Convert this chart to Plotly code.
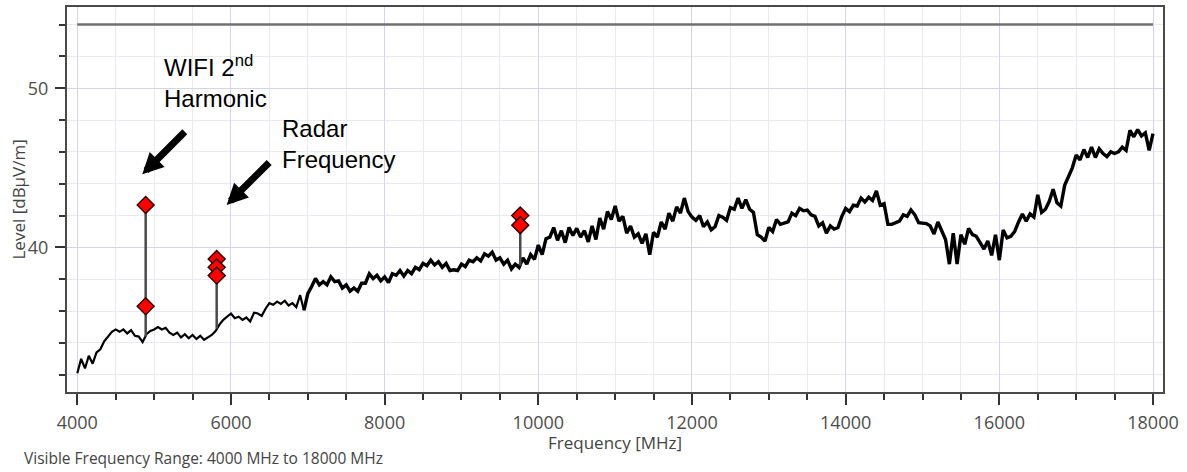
import plotly.graph_objects as go

# ---------------- data ----------------
freq_start, freq_stop, freq_step = 4000, 18000, 50
freq_mhz = list(range(freq_start, freq_stop + 1, freq_step))

level_dbuv = [
    # 4000 - 4950
    32.1, 33.0, 32.4, 33.2, 32.7, 33.4, 33.6, 34.1, 34.4, 34.7,
    34.85, 34.7, 34.85, 34.6, 34.8, 34.45, 34.4, 34.05, 34.55, 34.75,
    # 5000 - 5950
    34.85, 35.0, 34.85, 34.95, 34.65, 34.5, 34.65, 34.35, 34.55, 34.3,
    34.5, 34.25, 34.45, 34.2, 34.35, 34.5, 34.75, 35.15, 35.45, 35.65,
    # 6000 - 6950
    35.85, 35.55, 35.65, 35.45, 35.6, 35.35, 35.9, 35.85, 35.7, 36.15,
    36.5, 36.4, 36.6, 36.45, 36.65, 36.35, 36.5, 36.25, 37.0, 36.05,
    # 7000 - 7950
    37.1, 37.55, 38.05, 37.65, 37.85, 37.65, 38.15, 37.85, 37.9, 37.45,
    37.65, 37.25, 37.45, 37.25, 37.75, 37.75, 38.35, 38.05, 38.25, 37.9,
    # 8000 - 8950
    38.15, 37.8, 38.35, 38.25, 38.55, 38.2, 38.55, 38.35, 38.75, 38.6,
    39.0, 38.85, 39.2, 38.9, 39.1, 38.75, 39.0, 38.55, 38.6, 38.55,
    # 9000 - 9950
    38.95, 38.8, 39.2, 39.1, 39.35, 39.15, 39.6, 39.45, 39.7, 39.2,
    39.35, 38.95, 39.2, 38.65, 38.95, 38.75, 39.35, 38.95, 39.55, 39.25,
    # 10000 - 10950
    40.15, 39.55, 40.55, 40.65, 41.25, 40.45, 41.05, 40.3, 41.25, 40.75,
    41.2, 40.65, 41.05, 40.35, 41.35, 40.5, 41.85, 41.15, 42.25, 41.75,
    # 11000 - 11950
    42.6, 41.65, 41.95, 40.9, 41.35, 40.65, 40.85, 40.25, 40.85, 39.55,
    40.95, 40.65, 41.6, 41.15, 42.15, 41.65, 42.55, 42.15, 43.1, 42.25,
    # 12000 - 12950
    41.9, 41.7, 42.0, 41.3, 41.6, 41.1, 41.3, 42.0, 41.9, 41.7,
    42.5, 42.4, 43.1, 42.45, 43.0, 42.4, 42.2, 40.8, 40.65, 40.4,
    # 13000 - 13950
    41.25, 41.0, 41.75, 41.45, 41.55, 41.6, 42.15, 42.0, 42.45, 42.3,
    42.35, 42.05, 41.95, 41.35, 41.55, 40.9, 41.35, 41.15, 41.25, 41.95,
    # 14000 - 14950
    42.45, 42.25, 42.65, 42.6, 43.1, 42.85, 43.15, 42.95, 43.55, 42.65,
    42.75, 41.45, 41.45, 41.55, 41.65, 42.05, 41.95, 42.35, 42.05, 41.55,
    # 15000 - 15950
    41.55, 41.5, 41.35, 40.85, 41.6, 41.0, 40.5, 38.95, 40.9, 38.95,
    40.8, 40.2, 41.2, 40.8, 40.7, 40.3, 39.9, 40.4, 39.5, 40.8,
    # 16000 - 16950
    39.2, 41.1, 40.6, 40.7, 41.0, 41.6, 42.1, 41.65, 42.1, 41.9,
    43.3, 42.2, 42.4, 42.9, 43.65, 42.8, 42.6, 43.9, 44.4, 45.0,
    # 17000 - 18000
    45.8, 45.5, 46.15, 45.65, 46.3, 45.65, 46.2, 45.9, 45.7, 46.0,
    45.9, 46.0, 46.3, 46.1, 47.35, 46.95, 47.4, 47.0, 47.2, 46.1,
    47.15,
]

# frequency where the trace turns from a thin line into a dense noisy band
band_start_mhz = 6950

# limit line
limit_freq = [4000, 18000]
limit_level = [54.0, 54.0]

# narrow spikes (vertical stems) in the trace
spike_freq = [4890, 5814, 9765]
spike_base = [34.4, 34.9, 38.85]
spike_top = [42.67, 39.27, 42.0]

# peak markers
marker_freq = [4890, 4890, 5814, 5814, 5814, 9765, 9765]
marker_level = [42.67, 36.3, 39.27, 38.75, 38.23, 42.0, 41.4]

x_ticks = [4000, 6000, 8000, 10000, 12000, 14000, 16000, 18000]
y_ticks = [40, 50]

# ---------------- figure ----------------
stem_x, stem_y = [], []
for f, b, t in zip(spike_freq, spike_base, spike_top):
    stem_x += [f, f, None]
    stem_y += [b, t, None]

split = freq_mhz.index(band_start_mhz)

fig = go.Figure()
fig.add_trace(go.Scatter(x=limit_freq, y=limit_level, mode="lines",
                         line=dict(color="#707070", width=2.5), hoverinfo="skip"))
fig.add_trace(go.Scatter(x=freq_mhz[:split + 1], y=level_dbuv[:split + 1], mode="lines",
                         line=dict(color="#000000", width=2.2)))
fig.add_trace(go.Scatter(x=freq_mhz[split:], y=level_dbuv[split:], mode="lines",
                         line=dict(color="#000000", width=3.4)))
fig.add_trace(go.Scatter(x=stem_x, y=stem_y, mode="lines",
                         line=dict(color="#4a4a4a", width=2.5), hoverinfo="skip"))
fig.add_trace(go.Scatter(x=marker_freq, y=marker_level, mode="markers",
                         marker=dict(symbol="diamond", size=13, color="#ff0000",
                                     line=dict(color="#3a0000", width=1.5))))

major_grid = "rgb(212,212,236)"
minor_grid = "rgb(234,234,243)"
tick_font = dict(family="Open Sans, DejaVu Sans, sans-serif", size=18, color="#4d4d4d")

fig.update_xaxes(
    range=[3866, 18130], tickvals=x_ticks, ticktext=[str(v) for v in x_ticks],
    ticks="outside", ticklen=11, tickwidth=1.5, tickcolor="#333333",
    ticklabelstandoff=2,
    showline=True, linecolor="#4a4a4a", linewidth=2, mirror=True,
    showgrid=True, gridcolor=major_grid, gridwidth=1, zeroline=False,
    tickfont=tick_font,
    minor=dict(tick0=4000, dtick=500, ticks="outside", ticklen=6, tickwidth=1.5,
               tickcolor="#333333", showgrid=True, gridcolor=minor_grid, gridwidth=1),
)
fig.update_yaxes(
    range=[30.92, 55.1], tickvals=y_ticks, ticktext=[str(v) for v in y_ticks],
    ticks="outside", ticklen=10, tickwidth=1.5, tickcolor="#333333",
    ticklabelstandoff=3,
    showline=True, linecolor="#4a4a4a", linewidth=2, mirror=True,
    showgrid=True, gridcolor=major_grid, gridwidth=1, zeroline=False,
    tickfont=tick_font,
    minor=dict(tick0=0, dtick=2, ticks="outside", ticklen=6, tickwidth=1.5,
               tickcolor="#333333", showgrid=True, gridcolor=minor_grid, gridwidth=1),
)

label_font = dict(family="Open Sans, DejaVu Sans, sans-serif", size=17, color="#444444")
note_font = dict(family="Liberation Sans, Arial, sans-serif", size=24, color="#000000")

annotations = [
    dict(text="Frequency [MHz]", xref="paper", yref="paper", x=0.5, y=0,
         xanchor="center", yanchor="middle", yshift=-50, showarrow=False, font=label_font),
    dict(text="Level [dBµV/m]", xref="paper", yref="paper", x=0, y=0.5,
         xanchor="center", yanchor="middle", xshift=-49, textangle=-90,
         showarrow=False, font=label_font),
    dict(text="Visible Frequency Range: 4000 MHz to 18000 MHz", xref="paper", yref="paper",
         x=0, y=0, xanchor="left", yanchor="middle", xshift=-45, yshift=-66,
         showarrow=False, font=dict(family="Open Sans, DejaVu Sans, sans-serif",
                                    size=15.5, color="#444444")),
    dict(text="WIFI 2<sup>nd</sup><br>Harmonic", x=5102, y=50.39, xref="x", yref="y",
         xanchor="left", yanchor="middle", align="left", showarrow=False, font=note_font),
    dict(text="Radar<br>Frequency", x=6638, y=46.51, xref="x", yref="y",
         xanchor="left", yanchor="middle", align="left", showarrow=False, font=note_font),
    dict(text="", x=4846, y=44.59, xref="x", yref="y", ax=44, ay=-44,
         showarrow=True, arrowhead=2, arrowsize=0.6, arrowwidth=7, arrowcolor="#000000",
         standoff=0),
    dict(text="", x=5944, y=42.67, xref="x", yref="y", ax=44, ay=-44,
         showarrow=True, arrowhead=2, arrowsize=0.6, arrowwidth=7, arrowcolor="#000000",
         standoff=0),
]

fig.update_layout(
    width=1187, height=472,
    margin=dict(l=67, r=24, t=5, b=80),
    plot_bgcolor="white", paper_bgcolor="white",
    showlegend=False, annotations=annotations,
)

fig.write_html("out.html", config={"displayModeBar": False},
               post_script="document.body.style.margin='0px';")
